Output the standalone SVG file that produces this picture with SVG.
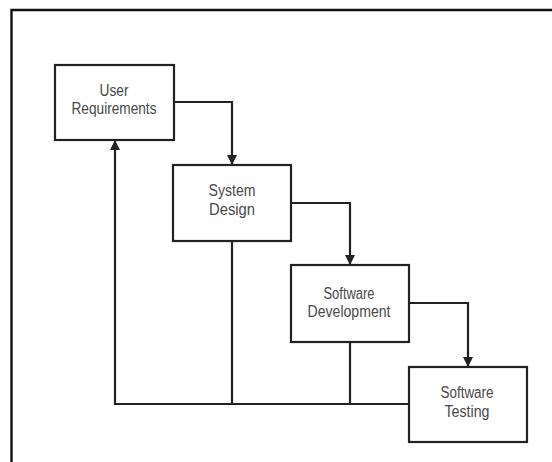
<svg xmlns="http://www.w3.org/2000/svg" width="552" height="462" viewBox="0 0 552 462">
<defs>
<style>
.box{fill:#fff;stroke:#222;stroke-width:2.2}
.lbl{font-family:"Liberation Sans",Arial,sans-serif;font-size:16px;fill:#4a4a4a;text-anchor:middle}
.con{fill:none;stroke:#222;stroke-width:2.2}
.frame{fill:none;stroke:#111;stroke-width:2.4}
</style>
<marker id="ah" viewBox="0 0 10 10" refX="10" refY="5" markerWidth="10" markerHeight="10" markerUnits="userSpaceOnUse" orient="auto">
<path d="M0,0 L10,5 L0,10 z" fill="#222"/>
</marker>
</defs>
<rect width="552" height="462" fill="#fff"/>
<path class="frame" d="M11.5,462 V10 H552"/>
<g id="connectors">
<path class="con" d="M174,102 H232 V165" marker-end="url(#ah)"/>
<path class="con" d="M291,203 H350 V265" marker-end="url(#ah)"/>
<path class="con" d="M409,303 H468 V367" marker-end="url(#ah)"/>
<path class="con" d="M409,404 H115 V140" marker-end="url(#ah)"/>
<path class="con" d="M232,241 V404"/>
<path class="con" d="M350,342 V404"/>
</g>
<g id="user-requirements">
<rect class="box" x="55" y="65" width="119" height="75"/>
<text class="lbl" x="114" y="96" textLength="29" lengthAdjust="spacingAndGlyphs">User</text>
<text class="lbl" x="114" y="114" textLength="85" lengthAdjust="spacingAndGlyphs">Requirements</text>
</g>
<g id="system-design">
<rect class="box" x="173" y="165" width="118" height="76"/>
<text class="lbl" x="232" y="196" textLength="47" lengthAdjust="spacingAndGlyphs">System</text>
<text class="lbl" x="232" y="215" textLength="46" lengthAdjust="spacingAndGlyphs">Design</text>
</g>
<g id="software-development">
<rect class="box" x="291" y="265" width="118" height="77"/>
<text class="lbl" x="349" y="299" textLength="51" lengthAdjust="spacingAndGlyphs">Software</text>
<text class="lbl" x="349" y="317" textLength="83" lengthAdjust="spacingAndGlyphs">Development</text>
</g>
<g id="software-testing">
<rect class="box" x="409" y="367" width="118" height="75"/>
<text class="lbl" x="467" y="398" textLength="53" lengthAdjust="spacingAndGlyphs">Software</text>
<text class="lbl" x="467" y="417" textLength="45" lengthAdjust="spacingAndGlyphs">Testing</text>
</g>
</svg>
